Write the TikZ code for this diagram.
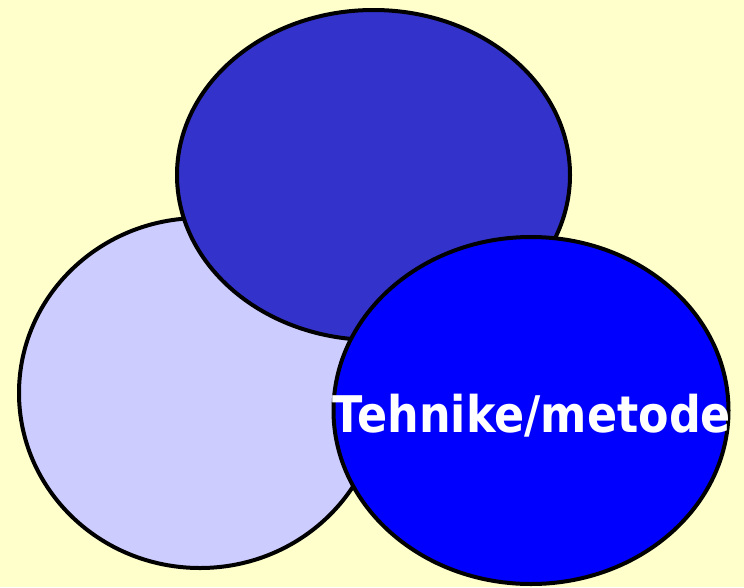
\documentclass[tikz,border=0pt]{standalone}
\usepackage{fontspec}
\usepackage{graphicx}
\usetikzlibrary{shapes.geometric}
\newfontfamily\labelfont{DejaVu Sans}
\definecolor{bgyellow}{HTML}{FFFFCC}
\definecolor{lavender}{HTML}{CCCCFF}
\definecolor{darkblue}{HTML}{3333CC}
\definecolor{pureblue}{HTML}{0000FF}
\tikzset{
  blob/.style={ellipse, draw=black, line width=4pt, inner sep=0pt},
  blobtext/.style={text=white, font=\labelfont\bfseries\fontsize{50.5}{55}\selectfont, inner sep=0pt}
}
\begin{document}
\begin{tikzpicture}[x=1pt,y=-1pt]
\fill[bgyellow] (0,0) rectangle (744,587);
\useasboundingbox (0,0) rectangle (744,587);
\node[blob, fill=lavender, minimum width=362pt, minimum height=350pt] (left) at (200,393) {};
\node[blob, fill=darkblue, minimum width=393pt, minimum height=330pt] (top) at (373.5,175) {};
\node[blob, fill=pureblue, minimum width=395pt, minimum height=347pt] (right) at (531,410.5) {};
\node[blobtext, anchor=base] (label) at (532,432) {\resizebox{398pt}{!}{\scalebox{0.88}[1]{Tehnike/metode}}};
\end{tikzpicture}
\end{document}
